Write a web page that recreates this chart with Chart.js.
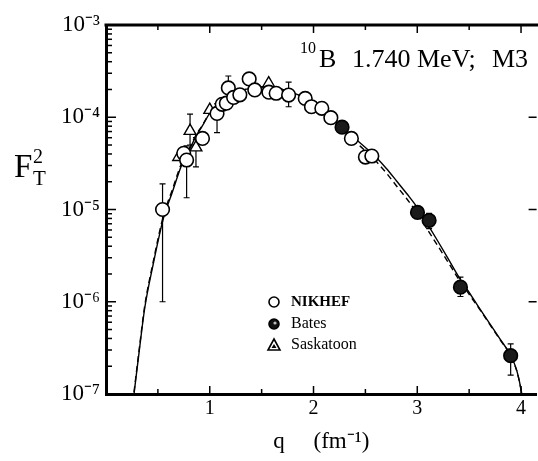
<!DOCTYPE html>
<html><head><meta charset="utf-8">
<script src="https://cdn.jsdelivr.net/npm/chart.js@4"></script>
<style>html,body{margin:0;padding:0;background:#fff;overflow:hidden}#wrap{width:545px;height:461px;position:relative}</style>
</head><body><div id="wrap"><canvas id="c" width="545" height="461"></canvas></div>
<script>
// ---- theory curves ----
const curveQ  = [0.27,0.32,0.373,0.45,0.554,0.64,0.724,0.8,0.866,0.93,1.01,1.1,1.2,1.3,1.4,1.5,1.6,1.7,1.8,1.9,2.0,2.1,2.2,2.3,2.4,2.5,2.6,2.7,2.8,2.9,3.0,3.1,3.2,3.3,3.4,3.5,3.6,3.7,3.8,3.9,3.96,4.0,4.04];
const solidF  = [1.0e-7,2.9e-7,8.5e-7,2.4e-6,8.05e-6,1.55e-5,2.92e-5,4.35e-5,6.17e-5,8.1e-5,1.15e-4,1.42e-4,1.72e-4,1.94e-4,2.07e-4,2.13e-4,2.1e-4,2.0e-4,1.85e-4,1.65e-4,1.43e-4,1.18e-4,9.3e-5,7.4e-5,5.9e-5,4.7e-5,3.7e-5,2.8e-5,2.04e-5,1.48e-5,1.05e-5,6.9e-6,4.5e-6,2.9e-6,1.86e-6,1.26e-6,8.5e-7,5.75e-7,3.9e-7,2.63e-7,1.78e-7,1.12e-7,5.6e-8];
const dashedF = [1.05e-7,3.05e-7,9.0e-7,2.55e-6,8.6e-6,1.65e-5,3.1e-5,4.55e-5,6.35e-5,8.25e-5,1.16e-4,1.42e-4,1.72e-4,1.94e-4,2.07e-4,2.13e-4,2.1e-4,2.0e-4,1.85e-4,1.65e-4,1.42e-4,1.17e-4,9.1e-5,7.1e-5,5.5e-5,4.3e-5,3.35e-5,2.5e-5,1.8e-5,1.3e-5,9.1e-6,6.0e-6,4.0e-6,2.65e-6,1.75e-6,1.2e-6,8.3e-7,5.65e-7,3.85e-7,2.6e-7,1.76e-7,1.11e-7,5.6e-8];

// ---- NIKHEF ----
const nikhefQ  = [0.545,0.749,0.777,0.93,1.07,1.12,1.16,1.179,1.23,1.29,1.38,1.434,1.57,1.64,1.76,1.92,1.98,2.08,2.167,2.365,2.50,2.562];
const nikhefF  = [1.0e-5,4.07e-5,3.44e-5,5.9e-5,1.1e-4,1.38e-4,1.42e-4,2.08e-4,1.64e-4,1.75e-4,2.6e-4,1.98e-4,1.87e-4,1.82e-4,1.74e-4,1.6e-4,1.3e-4,1.25e-4,9.9e-5,5.9e-5,3.7e-5,3.8e-5];
const nikhefLo = [1.0e-6,null,1.34e-5,null,6.8e-5,null,null,1.55e-4,null,null,null,null,null,null,1.3e-4,null,null,null,null,null,null,null];
const nikhefHi = [1.9e-5,null,4.9e-5,null,1.4e-4,null,null,2.8e-4,null,null,null,null,null,null,2.4e-4,null,null,null,null,null,null,null];

// ---- Bates ----
const batesQ  = [2.275,3.002,3.114,3.416,3.90];
const batesF  = [7.8e-5,9.3e-6,7.6e-6,1.44e-6,2.6e-7];
const batesLo = [null,null,6.2e-6,1.14e-6,1.6e-7];
const batesHi = [null,null,9.1e-6,1.85e-6,3.5e-7];

// ---- Saskatoon ----
const saskQ  = [0.70,0.81,0.867,1.0,1.568];
const saskF  = [3.7e-5,7.1e-5,4.7e-5,1.2e-4,2.33e-4];
const saskLo = [null,5.0e-5,2.9e-5,null,null];
const saskHi = [null,1.08e-4,6.0e-5,null,null];

// ---- ticks ----
const yDecades = [1e-7,1e-6,1e-5,1e-4,1e-3];
const yDecadeLabels = ['10\u207B\u2077','10\u207B\u2076','10\u207B\u2075','10\u207B\u2074','10\u207B\u00B3'];
const yMinorMult = [2,3,4,5,6,7,8,9];
const xMajor = [1,2,3,4];
const xMajorLabels = ['1','2','3','4'];

const legendNames = ['NIKHEF','Bates','Saskatoon'];
const xTitle = 'q     (fm\u207B\u00B9)';

const pts = (q, f) => q.map((v, i) => ({x: v, y: f[i]}));

const SERIF = '"Liberation Serif", "Times New Roman", serif';

const decor = {
  id: 'decor',
  beforeDatasetsDraw(chart) {
    const ctx = chart.ctx, xs = chart.scales.x, ys = chart.scales.y;
    ctx.save();
    ctx.strokeStyle = '#000'; ctx.lineWidth = 1.2;
    const bars = [[nikhefQ, nikhefLo, nikhefHi], [batesQ, batesLo, batesHi], [saskQ, saskLo, saskHi]];
    bars.forEach(([q, lo, hi]) => {
      q.forEach((v, i) => {
        if (lo[i] == null) return;
        const px = xs.getPixelForValue(v);
        const y1 = ys.getPixelForValue(lo[i]), y2 = ys.getPixelForValue(hi[i]);
        ctx.beginPath();
        ctx.moveTo(px, y1); ctx.lineTo(px, y2);
        ctx.moveTo(px - 3, y1); ctx.lineTo(px + 3, y1);
        ctx.moveTo(px - 3, y2); ctx.lineTo(px + 3, y2);
        ctx.stroke();
      });
    });
    ctx.restore();
  },
  afterDraw(chart) {
    const ctx = chart.ctx, xs = chart.scales.x, ys = chart.scales.y, a = chart.chartArea;
    ctx.save();
    ctx.strokeStyle = '#000'; ctx.fillStyle = '#000';
    // top frame
    ctx.lineWidth = 3;
    ctx.beginPath(); ctx.moveTo(a.left - 1.5, a.top); ctx.lineTo(a.right + 2, a.top); ctx.stroke();
    // inward ticks
    ctx.lineWidth = 1.5;
    xs.ticks.forEach(t => {
      if (t.value <= xs.min) return;
      const px = xs.getPixelForValue(t.value);
      const major = Math.abs(t.value - Math.round(t.value)) < 1e-6;
      const len = major ? 8 : 5;
      ctx.beginPath();
      ctx.moveTo(px, a.bottom); ctx.lineTo(px, a.bottom - len);
      ctx.moveTo(px, a.top); ctx.lineTo(px, a.top + len);
      ctx.stroke();
    });
    ys.ticks.forEach(t => {
      const py = ys.getPixelForValue(t.value);
      const lg = Math.log10(t.value);
      const major = Math.abs(lg - Math.round(lg)) < 1e-6;
      const len = major ? 10 : 6;
      ctx.beginPath();
      ctx.moveTo(a.left, py); ctx.lineTo(a.left + len, py);
      if (major) { ctx.moveTo(a.right, py); ctx.lineTo(a.right - 8, py); }
      ctx.stroke();
    });
    // y title F_T^2
    ctx.textBaseline = 'alphabetic'; ctx.textAlign = 'left';
    ctx.font = '33px ' + SERIF; ctx.fillText('F', 14, 177);
    ctx.font = '20px ' + SERIF; ctx.fillText('2', 33, 163);
    ctx.font = '21px ' + SERIF; ctx.fillText('T', 33, 185);
    // annotation
    ctx.font = '16px ' + SERIF; ctx.fillText('10', 300, 53);
    ctx.font = '26px ' + SERIF;
    ctx.fillText('B', 319, 67);
    ctx.fillText('1.740 MeV;', 352, 67);
    ctx.fillText('M3', 492, 67);
    // legend
    const lx = 274, ly = [302, 324, 345], tx = 291;
    ctx.lineWidth = 1.6;
    ctx.beginPath(); ctx.arc(lx, ly[0], 5, 0, Math.PI * 2); ctx.fillStyle = '#fff'; ctx.fill(); ctx.stroke();
    ctx.beginPath(); ctx.arc(lx, ly[1], 5, 0, Math.PI * 2); ctx.fillStyle = '#111'; ctx.fill(); ctx.stroke();
    ctx.beginPath(); ctx.arc(lx + 1, ly[1] - 1, 1.6, 0, Math.PI * 2); ctx.fillStyle = '#bbb'; ctx.fill();
    ctx.beginPath(); ctx.moveTo(lx, ly[2] - 6); ctx.lineTo(lx + 6, ly[2] + 5); ctx.lineTo(lx - 6, ly[2] + 5); ctx.closePath();
    ctx.fillStyle = '#fff'; ctx.fill(); ctx.stroke();
    ctx.fillStyle = '#000';
    ctx.beginPath(); ctx.moveTo(lx, ly[2] - 1); ctx.lineTo(lx + 2.5, ly[2] + 3); ctx.lineTo(lx - 2.5, ly[2] + 3); ctx.closePath(); ctx.fill();
    ctx.textBaseline = 'middle';
    ctx.font = 'bold 15px ' + SERIF; ctx.fillText(legendNames[0], tx, ly[0]);
    ctx.font = '16px ' + SERIF; ctx.fillText(legendNames[1], tx, ly[1]);
    ctx.fillText(legendNames[2], tx, ly[2]);
    ctx.restore();
  }
};

new Chart(document.getElementById('c'), {
  type: 'scatter',
  data: {
    datasets: [
      { label: 'NIKHEF', data: pts(nikhefQ, nikhefF), pointStyle: 'circle', pointRadius: 6.8,
        pointBackgroundColor: '#fff', pointBorderColor: '#000', pointBorderWidth: 1.6, showLine: false, order: 1 },
      { label: 'Bates', data: pts(batesQ, batesF), pointStyle: 'circle', pointRadius: 6.8,
        pointBackgroundColor: '#1a1a1a', pointBorderColor: '#000', pointBorderWidth: 1.6, showLine: false, order: 0 },
      { label: 'Saskatoon', data: pts(saskQ, saskF), pointStyle: 'triangle', pointRadius: 6.8,
        pointBackgroundColor: '#fff', pointBorderColor: '#000', pointBorderWidth: 1.4, showLine: false, order: 2 },
      { label: 'solid', type: 'line', data: pts(curveQ, solidF), borderColor: '#000', borderWidth: 1.4,
        pointRadius: 0, cubicInterpolationMode: 'monotone', fill: false, order: 3 },
      { label: 'dashed', type: 'line', data: pts(curveQ, dashedF), borderColor: '#000', borderWidth: 1.4,
        borderDash: [6, 4], pointRadius: 0, cubicInterpolationMode: 'monotone', fill: false, order: 4 }
    ]
  },
  options: {
    responsive: false, animation: false, devicePixelRatio: 1,
    layout: { padding: { top: 25, right: 5, left: 0, bottom: 0 } },
    plugins: { legend: { display: false }, tooltip: { enabled: false } },
    scales: {
      x: {
        type: 'linear', min: 0, max: 4.15,
        afterFit: s => { s.height = 67; },
        grid: { display: false, drawTicks: false },
        border: { display: true, width: 3, color: '#000' },
        ticks: { stepSize: 0.5, includeBounds: false, autoSkip: false, maxRotation: 0, padding: 3, color: '#000',
          font: { family: SERIF, size: 20 },
          callback: v => { const i = xMajor.indexOf(v); return i >= 0 ? xMajorLabels[i] : ''; } },
        title: { display: true, text: xTitle, color: '#000', font: { family: SERIF, size: 23 }, padding: { top: 0, bottom: 5 } }
      },
      y: {
        type: 'logarithmic', min: 1e-7, max: 1e-3,
        afterFit: s => { s.width = 106; },
        afterBuildTicks: s => {
          const t = [];
          yDecades.forEach((d, i) => {
            t.push({ value: d });
            if (i < yDecades.length - 1) yMinorMult.forEach(m => t.push({ value: d * m }));
          });
          s.ticks = t;
        },
        grid: { display: false, drawTicks: false },
        border: { display: true, width: 3, color: '#000' },
        ticks: { autoSkip: false, padding: 6, color: '#000', font: { family: SERIF, size: 23 },
          callback: v => { const i = yDecades.findIndex(d => Math.abs(d - v) / d < 1e-6); return i >= 0 ? yDecadeLabels[i] : ''; } }
      }
    }
  },
  plugins: [decor]
});
</script></body></html>
